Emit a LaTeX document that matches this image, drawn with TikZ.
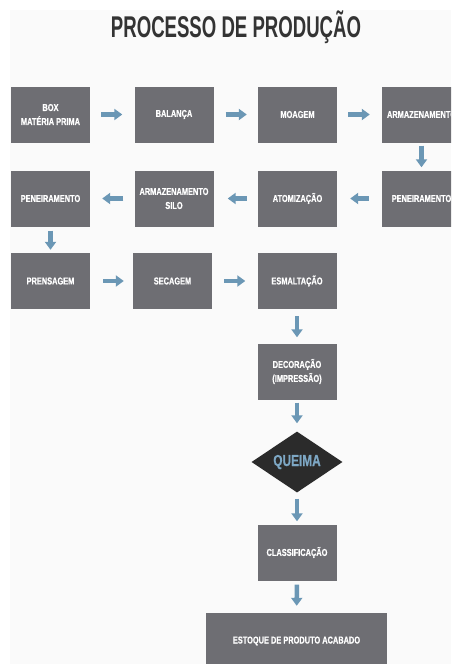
\documentclass[tikz,border=0pt]{standalone}
\usepackage{fontspec}
\setmainfont{Liberation Sans}[FakeStretch=0.74]
\newfontfamily\boxfont{Liberation Sans}[FakeStretch=0.74,BoldFeatures={FakeBold=0.6}]
\newfontfamily\titlefont{Liberation Sans}[FakeStretch=0.62]
\usetikzlibrary{arrows.meta,shapes.geometric}
\definecolor{boxgray}{HTML}{6E6E73}
\definecolor{arrowblue}{HTML}{6B97B5}
\definecolor{diamonddark}{HTML}{2B2B2B}
\definecolor{queimablue}{HTML}{7DA7C4}
\definecolor{titlegray}{HTML}{333333}
\definecolor{bggray}{HTML}{FAFAFA}
\begin{document}
\begin{tikzpicture}[x=1pt,y=-1pt,
  box/.style={fill=boxgray, text=white, font=\boxfont\bfseries\fontsize{10}{14}\selectfont,
    minimum width=79pt, minimum height=56pt, inner sep=0pt, align=center},
  flow/.style={draw=arrowblue, line width=4.5pt, -{Triangle[length=8pt,width=11pt]}}]
\useasboundingbox (0,0) rectangle (451,664);
\clip (0,0) rectangle (451,664);
\fill[white] (0,0) rectangle (451,664);
\fill[bggray] (10,10) rectangle (451,664);

\node[text=titlegray, font=\titlefont\bfseries\fontsize{30}{34}\selectfont] (title) at (236,27) {PROCESSO DE PRODUÇÃO};

% row 1
\node[box] (box) at (50.5,114.5) {BOX\\MATÉRIA PRIMA};
\node[box] (bal) at (174,114.5) {BALANÇA};
\node[box] (moa) at (297.5,114.5) {MOAGEM};
\node[box] (arm) at (421.5,114.5) {ARMAZENAMENTO};
% row 2
\node[box] (pen1) at (421.5,198.5) {PENEIRAMENTO};
\node[box] (ato) at (297.5,198.5) {ATOMIZAÇÃO};
\node[box] (silo) at (174,198.5) {ARMAZENAMENTO\\SILO};
\node[box] (pen2) at (50.5,198.5) {PENEIRAMENTO};
% row 3
\node[box] (pre) at (50.5,281) {PRENSAGEM};
\node[box] (sec) at (172.5,281) {SECAGEM};
\node[box] (esm) at (297,281) {ESMALTAÇÃO};
% column
\node[box] (dec) at (297,371.5) {DECORAÇÃO\\(IMPRESSÃO)};
\node[diamond, fill=diamonddark, minimum width=91pt, minimum height=61pt, inner sep=0pt,
  aspect=1.5, text=queimablue, font=\boxfont\bfseries\fontsize{16}{18}\selectfont] (que) at (297,462) {QUEIMA};
\node[box] (cla) at (297,552.5) {CLASSIFICAÇÃO};
\node[box, minimum width=181pt] (est) at (296.5,641) {ESTOQUE DE PRODUTO ACABADO};

% arrows
\draw[flow, shorten <=11pt, shorten >=12pt] (box) -- (bal);
\draw[flow, shorten <=12pt, shorten >=11pt] (bal) -- (moa);
\draw[flow, shorten <=11pt, shorten >=12pt] (moa) -- (arm);
\draw[flow, shorten <=3pt, shorten >=3pt] (arm) -- (pen1);
\draw[flow, shorten <=13pt, shorten >=13pt] (pen1) -- (ato);
\draw[flow, shorten <=11pt, shorten >=14pt] (ato) -- (silo);
\draw[flow, shorten <=11pt, shorten >=12pt] (silo) -- (pen2);
\draw[flow, shorten <=4pt, shorten >=3pt] (pen2) -- (pre);
\draw[flow, shorten <=13pt, shorten >=9pt] (pre) -- (sec);
\draw[flow, shorten <=12pt, shorten >=12pt] (sec) -- (esm);
\draw[flow, shorten <=7pt, shorten >=6pt] (esm) -- (dec);
\draw[flow, shorten <=3pt, shorten >=8pt] (dec) -- (que);
\draw[flow, shorten <=6pt, shorten >=3pt] (que) -- (cla);
\draw[flow, shorten <=4pt, shorten >=7pt] (cla) -- (est);
\end{tikzpicture}
\end{document}
